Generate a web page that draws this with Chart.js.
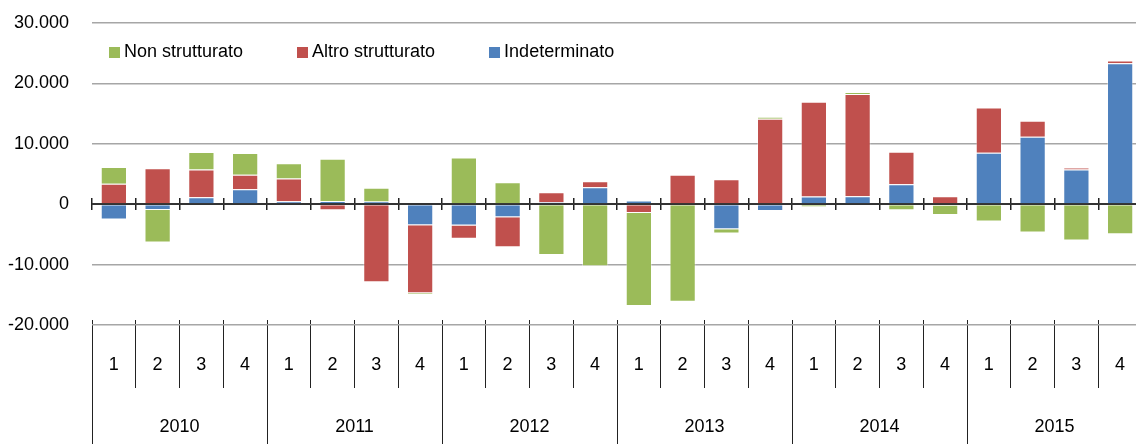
<!DOCTYPE html>
<html>
<head>
<meta charset="utf-8">
<script src="https://cdn.jsdelivr.net/npm/chart.js@4.4.1/dist/chart.umd.min.js"></script>
<style>
  html, body { margin: 0; padding: 0; background: #fff; overflow: hidden; width: 1136px; height: 444px; }
  #wrap { width: 1142px; height: 444px; }
</style>
</head>
<body>
<div id="wrap"><canvas id="c" width="1142" height="444"></canvas></div>
<script>
// ---- data ----
const quarters = ['1','2','3','4','1','2','3','4','1','2','3','4','1','2','3','4','1','2','3','4','1','2','3','4'];
const years = ['2010','2011','2012','2013','2014','2015'];
const indeterminato = [-2540, -940, 1160, 2490, 500, 550, 440, -3480, -3540, -2160, 330, 2820, 600, 0, -4150, -1110, 1270, 1330, 3320, -200, 8520, 11170, 5750, 23340];
const altroStrutturato = [3370, 5970, 4590, 2380, 3760, -1000, -12940, -11280, -2160, -4980, 1660, 1000, -1440, 4870, 4150, 14160, 15710, 16920, 5360, 1330, 7470, 2650, 280, 440];
const nonStrutturato = [2770, -5420, 2880, 3600, 2540, 6970, 2270, -220, 7740, 3650, -8400, -10290, -15430, -16150, -720, 280, -500, 280, -1000, -1570, -2880, -4700, -6030, -4980];
const yTicks = { min: -20000, max: 30000, step: 10000 };

const FONT_FAMILY = "'Liberation Sans Narrow', 'Arial Narrow', 'Liberation Sans', Arial, sans-serif";
const FONT = { family: FONT_FAMILY, size: 18 };
const COLORS = { blue: '#4F81BD', red: '#C0504D', green: '#9BBB59' };

function fmt(v) {
  const s = String(Math.abs(v)).replace(/\B(?=(\d{3})+(?!\d))/g, '.');
  return (v < 0 ? '-' : '') + s;
}
function squareStyle(color) {
  const c = document.createElement('canvas');
  c.width = 11; c.height = 11;
  const g = c.getContext('2d');
  g.fillStyle = color; g.fillRect(0, 0, 11, 11);
  return c;
}

// legend drawn inside the plot area (does not take layout space)
const legendInside = {
  id: 'legendInside',
  beforeLayout(chart) {
    const i = chart.boxes.indexOf(chart.legend);
    if (i >= 0) chart.boxes.splice(i, 1);
  },
  afterLayout(chart) {
    const lg = chart.legend; if (!lg) return;
    const ca = chart.chartArea;
    lg.update(1000, 300, { left: 0, top: 0, right: 0, bottom: 0 });
    const p = lg.options.labels.padding;
    lg.left = ca.left + 22 - p;
    lg.top = ca.top + 20 - p;
    lg.right = lg.left + lg.width;
    lg.bottom = lg.top + lg.height;
  },
  afterDraw(chart) { if (chart.legend) chart.legend.draw(); }
};

const barBase = { barPercentage: 0.6, categoryPercentage: 1.0, borderWidth: 1, borderColor: 'rgba(255,255,255,0.35)' };

function tickAxis(value, len, width) {
  return {
    type: 'category',
    axis: 'x',
    position: { y: value },
    offset: true,
    grid: { offset: true, drawOnChartArea: false, drawTicks: true, tickLength: len, color: '#222', lineWidth: width },
    border: { display: false },
    ticks: { display: false }
  };
}

new Chart(document.getElementById('c'), {
  type: 'bar',
  data: {
    labels: quarters,
    datasets: [
      Object.assign({ label: 'Indeterminato', data: indeterminato, backgroundColor: COLORS.blue }, barBase),
      Object.assign({ label: 'Altro strutturato', data: altroStrutturato, backgroundColor: COLORS.red }, barBase),
      Object.assign({ label: 'Non strutturato', data: nonStrutturato, backgroundColor: COLORS.green }, barBase)
    ]
  },
  plugins: [legendInside],
  options: {
    responsive: false,
    animation: false,
    layout: { padding: { top: 23, left: 0, right: 0, bottom: 0 } },
    plugins: {
      tooltip: { enabled: false },
      title: { display: false },
      legend: {
        display: true,
        position: 'top',
        align: 'start',
        reverse: true,
        labels: {
          usePointStyle: true,
          boxWidth: 1,
          boxHeight: 11,
          padding: 59,
          color: '#000',
          font: FONT,
          generateLabels(chart) {
            const items = Chart.defaults.plugins.legend.labels.generateLabels(chart);
            items.forEach(it => {
              it.pointStyle = squareStyle(chart.data.datasets[it.datasetIndex].backgroundColor);
            });
            return items;
          }
        }
      }
    },
    scales: {
      x: {
        type: 'category',
        axis: 'x',
        position: 'bottom',
        weight: 0,
        stacked: true,
        offset: true,
        afterFit(s) { s.height = 63; },
        grid: { offset: true, drawOnChartArea: false, drawTicks: true, tickLength: 63, color: '#222', lineWidth: 1 },
        border: { display: false },
        ticks: { font: FONT, color: '#000', padding: -34, autoSkip: false, maxRotation: 0 }
      },
      x2: {
        type: 'category',
        axis: 'x',
        labels: years,
        position: 'bottom',
        weight: 1,
        offset: true,
        afterFit(s) { s.height = 56; },
        grid: { offset: true, drawOnChartArea: false, drawTicks: true, tickLength: 56, color: '#222', lineWidth: 1 },
        border: { display: false },
        ticks: { font: FONT, color: '#000', padding: -28, autoSkip: false, maxRotation: 0 }
      },
      zt1: tickAxis(0, 6, 1.5),
      zt2: tickAxis(0, -6, 1.5),
      bt: tickAxis(yTicks.min, -5, 1),
      y: {
        type: 'linear',
        axis: 'y',
        position: 'left',
        stacked: true,
        min: yTicks.min,
        max: yTicks.max,
        afterFit(s) { s.width = 92; },
        grid: {
          drawTicks: true,
          tickLength: 23,
          tickColor: 'rgba(0,0,0,0)',
          color: (ctx) => (ctx.tick && ctx.tick.value === 0) ? '#333' : '#a6a6a6',
          lineWidth: (ctx) => (ctx.tick && ctx.tick.value === 0) ? 2 : 1.5
        },
        border: { display: false },
        ticks: { stepSize: yTicks.step, font: FONT, color: '#000', padding: 0, callback: (v) => fmt(v) }
      }
    }
  }
});
</script>
</body>
</html>
